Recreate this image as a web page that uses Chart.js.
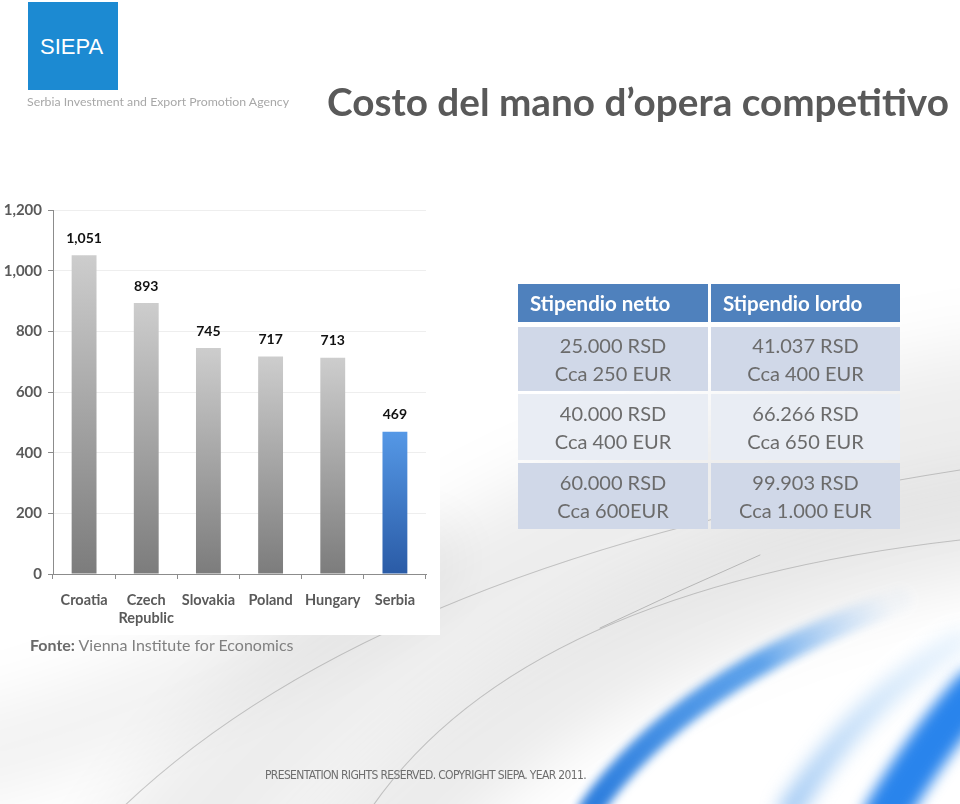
<!DOCTYPE html>
<html>
<head>
    <title>Costo del mano d'opera competitivo</title>
    <script src="https://cdn.jsdelivr.net/npm/chart.js"></script>
    <style>
        body { margin: 0; width: 960px; height: 804px; position: relative; overflow: hidden; background: white; font-family: Lato, sans-serif; }
        #bg { position: absolute; left: 0; top: 0; }
        .logo { position: absolute; left: 28px; top: 2px; width: 90px; height: 88px; background: #1c8ad2; }
        .logo span { position: absolute; left: 12px; top: 32px; color: white; font: 22px "Liberation Sans", Arial, sans-serif; }
        .agency { position: absolute; left: 27px; top: 94px; color: #a8a8a8; font-size: 12.3px; }
        h1 { position: absolute; left: 327px; top: 78px; margin: 0; color: #595959; font-size: 38.7px; font-weight: bold; white-space: nowrap; }
        .chart-box { position: absolute; left: 0; top: 195px; width: 440px; height: 440px; background: white; }
        .source { position: absolute; left: 30px; top: 635px; color: #808080; font-size: 16px; }
        .source b { color: #6a6a6a; }
        .pay { position: absolute; left: 518px; top: 284px; display: grid; grid-template-columns: 190px 189px; grid-template-rows: 40px 64px 66px 66px; gap: 3px; }
        .pay div { color: #6b6b6b; font-size: 20px; line-height: 28px; text-align: center; display: flex; flex-direction: column; justify-content: center; }
        .pay .head { background: #4f81bd; color: white; font-weight: bold; font-size: 20.5px; text-align: left; padding-left: 12px; margin-bottom: 2px; }
        .pay .odd { background: #d0d8e8; }
        .pay .even { background: #e9edf4; }
        .footer { position: absolute; left: 265px; top: 768px; color: #6e6e6e; font: 12px "Liberation Sans Narrow", "DejaVu Sans Condensed", sans-serif; letter-spacing: -0.65px; white-space: nowrap; }
    </style>
</head>
<body>
    <canvas id="bg" width="960" height="804"></canvas>
    <div class="logo"><span>SIEPA</span></div>
    <div class="agency">Serbia Investment and Export Promotion Agency</div>
    <h1>Costo del mano d’opera competitivo</h1>
    <div class="chart-box"><canvas id="wageChart" width="440" height="440"></canvas></div>
    <div class="source"><b>Fonte:</b> Vienna Institute for Economics</div>
    <div class="pay" id="pay"></div>
    <div class="footer">PRESENTATION RIGHTS RESERVED. COPYRIGHT SIEPA. YEAR 2011.</div>

    <script>
        // chart data
        const countries = ['Croatia', ['Czech', 'Republic'], 'Slovakia', 'Poland', 'Hungary', 'Serbia'];
        const wages = [1051, 893, 745, 717, 713, 469];
        const highlightIndex = 5;
        const yMax = 1200;
        const yStep = 200;

        // table data
        const tableHeads = ['Stipendio netto', 'Stipendio lordo'];
        const nettoRsd = ['25.000 RSD', '40.000 RSD', '60.000 RSD'];
        const nettoEur = ['Cca 250 EUR', 'Cca 400 EUR', 'Cca 600EUR'];
        const lordoRsd = ['41.037 RSD', '66.266 RSD', '99.903 RSD'];
        const lordoEur = ['Cca 400 EUR', 'Cca 650 EUR', 'Cca 1.000 EUR'];

        // background swooshes (decoration only)
        const bg = document.getElementById('bg').getContext('2d');
        function curve(x0, y0, cx, cy, x1, y1, width, color, blur) {
            bg.save();
            bg.filter = 'blur(' + blur + 'px)';
            bg.strokeStyle = color;
            bg.lineWidth = width;
            bg.lineCap = 'round';
            bg.beginPath();
            bg.moveTo(x0, y0);
            bg.quadraticCurveTo(cx, cy, x1, y1);
            bg.stroke();
            bg.restore();
        }
        function fade(x0, y0, x1, y1, stops) {
            const g = bg.createLinearGradient(x0, y0, x1, y1);
            stops.forEach(s => g.addColorStop(s[0], s[1]));
            return g;
        }
        curve(140, 900, 400, 520, 1000, 420, 150, 'rgba(0,0,0,0.07)', 35);
        curve(330, 900, 560, 600, 1000, 520, 110, 'rgba(0,0,0,0.08)', 30);
        curve(-40, 760, 200, 700, 420, 560, 90, 'rgba(0,0,0,0.05)', 30);
        curve(120, 810, 380, 560, 960, 470, 1.2, 'rgba(90,90,90,0.3)', 0.6);
        curve(370, 810, 520, 590, 960, 540, 1.2, 'rgba(90,90,90,0.3)', 0.6);
        curve(600, 628, 680, 590, 760, 555, 1, 'rgba(90,90,90,0.35)', 0.5);
        curve(590, 810, 680, 680, 900, 600, 24,
              fade(600, 800, 890, 602, [[0, 'rgba(35,120,220,0.95)'], [0.6, 'rgba(55,140,230,0.8)'], [1, 'rgba(140,190,245,0.05)']]), 5);
        curve(790, 810, 860, 700, 960, 640, 24,
              fade(790, 810, 960, 640, [[0, 'rgba(90,160,235,0.55)'], [1, 'rgba(150,200,245,0.2)']]), 9);
        curve(885, 815, 930, 740, 975, 690, 44, 'rgba(30,125,235,0.95)', 7);

        // table
        const pay = document.getElementById('pay');
        tableHeads.forEach(h => {
            const d = document.createElement('div');
            d.className = 'head';
            d.textContent = h;
            pay.appendChild(d);
        });
        for (let i = 0; i < nettoRsd.length; i++) {
            [[nettoRsd[i], nettoEur[i]], [lordoRsd[i], lordoEur[i]]].forEach(cell => {
                const d = document.createElement('div');
                d.className = i % 2 === 0 ? 'odd' : 'even';
                d.innerHTML = '<span>' + cell[0] + '</span><span>' + cell[1] + '</span>';
                pay.appendChild(d);
            });
        }

        // bar fill: vertical gradient per bar
        function barFill(context) {
            const chart = context.chart;
            if (!chart.chartArea) return '#999';
            const y = chart.scales.y;
            const top = y.getPixelForValue(wages[context.dataIndex]);
            const bottom = y.getPixelForValue(0);
            const g = chart.ctx.createLinearGradient(0, top, 0, bottom);
            if (context.dataIndex === highlightIndex) {
                g.addColorStop(0, '#5598e6');
                g.addColorStop(1, '#2a5ba6');
            } else {
                g.addColorStop(0, '#cdcdcd');
                g.addColorStop(1, '#7c7c7c');
            }
            return g;
        }

        const valueLabels = {
            id: 'valueLabels',
            afterDatasetsDraw(chart) {
                const ctx = chart.ctx;
                ctx.save();
                ctx.font = 'bold 14px Lato, sans-serif';
                ctx.fillStyle = '#111';
                ctx.textAlign = 'center';
                ctx.textBaseline = 'middle';
                chart.getDatasetMeta(0).data.forEach((bar, i) => {
                    ctx.fillText(wages[i].toLocaleString('en-US'), bar.x, bar.y - 17);
                });
                ctx.restore();
            }
        };

        new Chart(document.getElementById('wageChart'), {
            type: 'bar',
            data: {
                labels: countries,
                datasets: [{
                    data: wages,
                    backgroundColor: barFill,
                    barPercentage: 0.4,
                    categoryPercentage: 1
                }]
            },
            options: {
                responsive: false,
                animation: false,
                layout: { padding: { top: 15, right: 14, left: 0, bottom: 0 } },
                plugins: { legend: { display: false }, tooltip: { enabled: false } },
                scales: {
                    x: {
                        grid: { drawOnChartArea: false, tickLength: 5, color: '#8c8c8c', offset: true },
                        border: { color: '#8c8c8c' },
                        ticks: { font: { family: 'Lato, sans-serif', size: 14.5, weight: 'bold' },
                                 color: '#5a5a5a', padding: 13, maxRotation: 0 },
                        afterFit: s => { s.height = 61; }
                    },
                    y: {
                        min: 0,
                        max: yMax,
                        grid: { color: '#eeeeee', tickColor: '#8c8c8c', tickLength: 5 },
                        border: { color: '#8c8c8c' },
                        ticks: { stepSize: yStep, font: { family: 'Lato, sans-serif', size: 15, weight: 'bold' },
                                 color: '#5a5a5a', padding: 6,
                                 callback: v => v.toLocaleString('en-US') },
                        afterFit: s => { s.width = 53; }
                    }
                }
            },
            plugins: [valueLabels]
        });
    </script>
</body>
</html>
